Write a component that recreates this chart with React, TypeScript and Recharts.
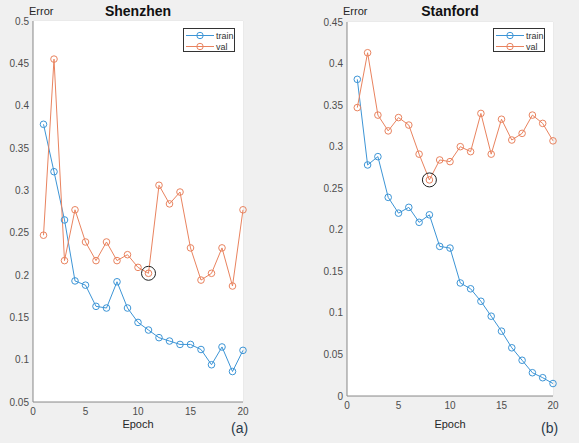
import React from 'react';
import {
  LineChart,
  Line,
  XAxis,
  YAxis,
  CartesianGrid,
  ReferenceDot,
} from 'recharts';

const epochs = [1, 2, 3, 4, 5, 6, 7, 8, 9, 10, 11, 12, 13, 14, 15, 16, 17, 18, 19, 20];

const shenzhenTrain = [0.378, 0.322, 0.265, 0.193, 0.188, 0.163, 0.161, 0.192, 0.161, 0.144,
  0.135, 0.126, 0.122, 0.118, 0.118, 0.112, 0.094, 0.115, 0.086, 0.111];
const shenzhenVal = [0.247, 0.455, 0.217, 0.277, 0.239, 0.217, 0.239, 0.217, 0.224, 0.209,
  0.202, 0.306, 0.284, 0.298, 0.232, 0.194, 0.202, 0.232, 0.187, 0.277];

const stanfordTrain = [0.381, 0.278, 0.288, 0.239, 0.22, 0.227, 0.209, 0.218, 0.18, 0.178,
  0.136, 0.129, 0.114, 0.096, 0.078, 0.058, 0.043, 0.028, 0.022, 0.015];
const stanfordVal = [0.347, 0.413, 0.338, 0.319, 0.335, 0.326, 0.291, 0.26, 0.284, 0.282,
  0.3, 0.294, 0.34, 0.291, 0.333, 0.308, 0.316, 0.338, 0.328, 0.307];

const epochTicks = [0, 5, 10, 15, 20];
const shenzhenTicks = [0.05, 0.1, 0.15, 0.2, 0.25, 0.3, 0.35, 0.4, 0.45, 0.5];
const stanfordTicks = [0, 0.05, 0.1, 0.15, 0.2, 0.25, 0.3, 0.35, 0.4, 0.45];

const BLUE = '#3d95d6';
const ORANGE = '#e9835f';
const FONT = '"Liberation Sans", Arial, sans-serif';
const tickStyle = { fontSize: 10, fill: '#4d4d4d', fontFamily: FONT };

const LegendBox = ({ left, top }: { left: number; top: number }) => (
  <div
    style={{
      position: 'absolute', left, top, width: 52, height: 24,
      border: '1px solid #333', background: '#fff', boxSizing: 'border-box',
    }}
  >
    {[{ name: 'train', color: BLUE }, { name: 'val', color: ORANGE }].map((s, i) => (
      <div key={s.name} style={{ position: 'absolute', left: 1, top: 1 + i * 11, height: 11, display: 'flex', alignItems: 'center' }}>
        <svg width={30} height={11}>
          <line x1={1} x2={29} y1={5.5} y2={5.5} stroke={s.color} strokeWidth={1} />
          <circle cx={15} cy={5.5} r={3.2} fill="none" stroke={s.color} strokeWidth={1} />
        </svg>
        <span style={{ fontFamily: FONT, fontSize: 9, color: '#333', marginLeft: 1 }}>{s.name}</span>
      </div>
    ))}
  </div>
);

interface PanelProps {
  left: number;
  width: number;
  title: string;
  tag: string;
  train: number[];
  val: number[];
  yTicks: number[];
  best: number;
  axisW: number;
  top: number;
  right: number;
  axisH: number;
}

function Panel({ left, width, title, tag, train, val, yTicks, best, axisW, top, right, axisH }: PanelProps) {
  const data = epochs.map((e, i) => ({ epoch: e, train: train[i], val: val[i] }));
  const domain = [yTicks[0], yTicks[yTicks.length - 1]];
  const plotCenter = axisW + (width - axisW - right) / 2;
  return (
    <div style={{ position: 'absolute', left, top: 0, width, height: 443 }}>
      <LineChart width={width} height={443} data={data} margin={{ top, right, left: 0, bottom: 0 }}>
        <rect x={axisW} y={top} width={width - axisW - right} height={443 - top - axisH} fill="#fff" />
        <CartesianGrid stroke="#e4e4e4" strokeWidth={1} fill="#fff" />
        <XAxis
          dataKey="epoch"
          type="number"
          domain={[0, 20]}
          ticks={epochTicks}
          height={axisH}
          tick={tickStyle}
          tickLine={false}
          tickSize={3}
          tickMargin={3}
          axisLine={{ stroke: '#8a8a8a' }}
          interval={0}
        />
        <XAxis
          xAxisId="top"
          orientation="top"
          dataKey="epoch"
          type="number"
          domain={[0, 20]}
          height={0}
          tick={false}
          tickLine={false}
          axisLine={{ stroke: '#8a8a8a' }}
        />
        <YAxis
          type="number"
          domain={domain}
          ticks={yTicks}
          width={axisW}
          tick={tickStyle}
          tickLine={false}
          tickSize={2}
          tickMargin={2}
          axisLine={{ stroke: '#8a8a8a' }}
          tickFormatter={(v: number) => String(v)}
          interval={0}
        />
        <YAxis
          yAxisId="right"
          orientation="right"
          type="number"
          domain={domain}
          width={0}
          tick={false}
          tickLine={false}
          axisLine={{ stroke: '#8a8a8a' }}
        />
        <Line
          type="linear"
          dataKey="train"
          stroke={BLUE}
          strokeWidth={1}
          dot={{ r: 3.3, stroke: BLUE, strokeWidth: 1, fill: 'none' }}
          isAnimationActive={false}
        />
        <Line
          type="linear"
          dataKey="val"
          stroke={ORANGE}
          strokeWidth={1}
          dot={{ r: 3.3, stroke: ORANGE, strokeWidth: 1, fill: 'none' }}
          isAnimationActive={false}
        />
        <ReferenceDot x={epochs[best]} y={val[best]} r={7} fill="none" stroke="#222" strokeWidth={1} />
      </LineChart>
      <div style={{ position: 'absolute', left: axisW - 4, top: 5, fontFamily: FONT, fontSize: 11, color: '#262626' }}>Error</div>
      <div style={{ position: 'absolute', left: plotCenter - 60, width: 120, textAlign: 'center', top: 3, fontFamily: FONT, fontSize: 14, fontWeight: 'bold', color: '#111' }}>{title}</div>
      <div style={{ position: 'absolute', left: plotCenter - 40, width: 80, textAlign: 'center', top: 418, fontFamily: FONT, fontSize: 11, color: '#262626' }}>Epoch</div>
      <div style={{ position: 'absolute', left: width - right - 12, top: 420, fontFamily: FONT, fontSize: 14, color: '#2b3a4a' }}>{tag}</div>
      <LegendBox left={width - right - 60} top={28} />
    </div>
  );
}

export default function App() {
  return (
    <div style={{ position: 'absolute', left: 0, top: 0, width: 579, height: 443, background: '#f0f0f0', overflow: 'hidden' }}>
      <Panel
        left={0} width={290} title="Shenzhen" tag="(a)"
        train={shenzhenTrain} val={shenzhenVal} yTicks={shenzhenTicks} best={10}
        axisW={33} top={21} right={47} axisH={41}
      />
      <Panel
        left={290} width={289} title="Stanford" tag="(b)"
        train={stanfordTrain} val={stanfordVal} yTicks={stanfordTicks} best={7}
        axisW={57} top={22} right={26} axisH={47}
      />
    </div>
  );
}
